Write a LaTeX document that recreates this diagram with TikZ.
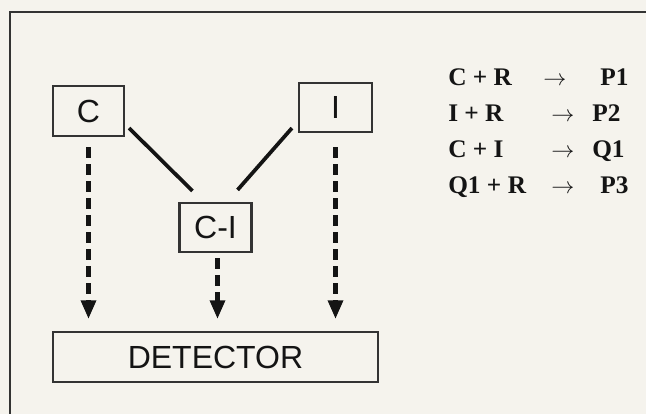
\documentclass[tikz,border=0pt]{standalone}
\usepackage{fontspec}
\setmainfont{Liberation Serif}
\newfontfamily\boxfont{Liberation Sans}
\usetikzlibrary{arrows.meta,calc}
\definecolor{paper}{HTML}{F5F3ED}
\definecolor{ink}{HTML}{141414}
\definecolor{boxline}{HTML}{333333}
\tikzset{
  blk/.style={draw=boxline, line width=1.6pt, inner sep=0pt, text=ink,
    font=\boxfont\fontsize{24}{24}\selectfont},
  link/.style={draw=ink, line width=2.8pt},
  dasharrow/.style={draw=ink, line width=3.2pt, dash pattern=on 8.25pt off 4.5pt,
    -{Triangle[length=14pt,width=11pt]}},
  eq/.style={inner sep=0pt, text=ink, font=\fontsize{19}{19}\selectfont\bfseries},
  eqarrow/.style={inner sep=0pt, text=ink, font=\fontsize{19}{19}\selectfont}
}
\begin{document}
\begin{tikzpicture}[x=0.75pt,y=-0.75pt]
  \useasboundingbox (0,0) rectangle (646,414);
  \fill[paper] (0,0) rectangle (646,414);
  \draw[boxline, line width=1.8pt] (10,414) -- (10,12) -- (646,12);

  \node[blk, minimum width=71*0.75pt, minimum height=50*0.75pt] (C) at (88.5,111) {C};
  \node[blk, minimum width=73*0.75pt, minimum height=49*0.75pt] (I) at (335.5,107.5) {I};
  \node[blk, minimum width=72*0.75pt, minimum height=49*0.75pt] (CI) at (215.5,227.5) {C-I};
  \node[blk, minimum width=325*0.75pt, minimum height=50*0.75pt] (DET) at (215.5,357) {DETECTOR};

  \draw[link] ($(C.south east)+(4,-9)$) -- ($(CI.north west)+(14,-11)$);
  \draw[link] ($(I.south west)+(-6,-5)$) -- ($(CI.north east)+(-15,-12)$);

  \draw[dasharrow] ($(C.south)+(0,10)$) -- ($(C.south |- DET.north)+(0,-12)$);
  \draw[dasharrow] ($(CI.south)+(2,5)$) -- ($(CI.south |- DET.north)+(2,-12)$);
  \draw[dasharrow] ($(I.south)+(0,14)$) -- ($(I.south |- DET.north)+(0,-12)$);

  \node[eq, anchor=base west] (e1l) at (448,85) {C + R};
  \node[eqarrow, anchor=base] (e1a) at (555,85) {$\rightarrow$};
  \node[eq, anchor=base west] (e1r) at (600,85) {P1};

  \node[eq, anchor=base west] (e2l) at (448,121) {I + R};
  \node[eqarrow, anchor=base] (e2a) at (563,121) {$\rightarrow$};
  \node[eq, anchor=base west] (e2r) at (592,121) {P2};

  \node[eq, anchor=base west] (e3l) at (448,157) {C + I};
  \node[eqarrow, anchor=base] (e3a) at (563,157) {$\rightarrow$};
  \node[eq, anchor=base west] (e3r) at (592,157) {Q1};

  \node[eq, anchor=base west] (e4l) at (448,193) {Q1 + R};
  \node[eqarrow, anchor=base] (e4a) at (563,193) {$\rightarrow$};
  \node[eq, anchor=base west] (e4r) at (600,193) {P3};
\end{tikzpicture}
\end{document}
